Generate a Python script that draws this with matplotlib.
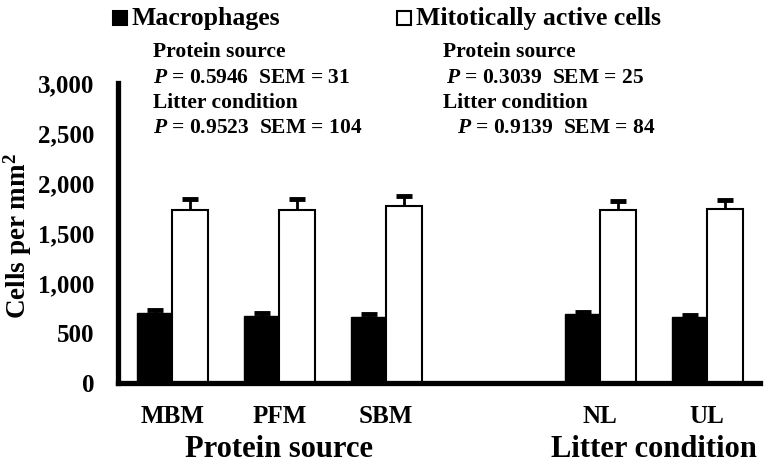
import matplotlib

matplotlib.use("Agg")

import matplotlib.pyplot as plt
import numpy as np
from matplotlib.patches import Rectangle
from matplotlib.ticker import FuncFormatter

groups = ["MBM", "PFM", "SBM", "NL", "UL"]
positions = [0, 1, 2, 4, 5]
macrophages = [700, 667, 657, 690, 657]
mitotic = [1734, 1734, 1770, 1737, 1747]
macro_sem = [31, 31, 31, 25, 25]
mitotic_sem = [104, 104, 104, 84, 84]

plt.rcParams["font.family"] = ["Liberation Serif", "DejaVu Serif"]
plt.rcParams["font.weight"] = "bold"
plt.rcParams["mathtext.fontset"] = "custom"
plt.rcParams["mathtext.rm"] = "Liberation Serif:bold"
plt.rcParams["mathtext.bf"] = "Liberation Serif:bold"
plt.rcParams["mathtext.it"] = "Liberation Serif:bold:italic"

fig = plt.figure(figsize=(7.65, 4.65), dpi=100)
ax = fig.add_axes([0.154, 0.176, 0.839, 0.645])

x = np.array(positions, dtype=float)
width = 0.33


def bars_with_upper_error(xs, vals, sem, face, lw):
    vals = np.array(vals, dtype=float)
    sem = np.array(sem, dtype=float)
    ax.bar(xs, vals, width, color=face, edgecolor="black", linewidth=lw, zorder=2)
    ax.vlines(xs, vals, vals + sem, color="black", linewidth=2, zorder=3)
    ax.plot(xs, vals + sem, ls="none", marker="_", ms=11, mew=3.5, color="black", zorder=3)


bars_with_upper_error(x - width / 2, macrophages, macro_sem, "black", 1)
bars_with_upper_error(x + width / 2, mitotic, mitotic_sem, "white", 1.5)

ax.set_xlim(-0.51, 5.49)
ax.set_ylim(0, 3000)
ax.set_yticks(np.arange(0, 3001, 500))
ax.yaxis.set_major_formatter(FuncFormatter(lambda v, p: f"{int(v):,}"))
ax.set_xticks(x)
ax.set_xticklabels(groups)
ax.tick_params(length=0, labelsize=18)
ax.tick_params(axis="x", pad=16)
ax.tick_params(axis="y", pad=17)
for s in ["top", "right"]:
    ax.spines[s].set_visible(False)
for s in ["left", "bottom"]:
    ax.spines[s].set_linewidth(3.8)

W, H = 765, 465
fig.text(18 / W, 1 - 236 / H, "Cells per mm$^{2}$", rotation=90, ha="center", va="center",
         fontsize=19.5)

ax.text(1, -0.222, "Protein source", transform=ax.get_xaxis_transform(),
        ha="center", va="center", fontsize=22)
ax.text(4.5, -0.222, "Litter condition", transform=ax.get_xaxis_transform(),
        ha="center", va="center", fontsize=22)

# legend drawn by hand
fig.patches.append(Rectangle((113 / W, 1 - 25 / H), 14 / W, 14 / H, transform=fig.transFigure,
                             facecolor="black", edgecolor="black", lw=1.5))
fig.text(132 / W, 1 - 18 / H, "Macrophages", ha="left", va="center", fontsize=18.5)
fig.patches.append(Rectangle((397 / W, 1 - 25 / H), 14 / W, 14 / H, transform=fig.transFigure,
                             facecolor="white", edgecolor="black", lw=1.5))
fig.text(416 / W, 1 - 18 / H, "Mitotically active cells", ha="left", va="center", fontsize=18.5)

left_notes = [
    (153, 52, "Protein source"),
    (153, 78, "$P$ = 0.5946  SEM = 31"),
    (153, 103, "Litter condition"),
    (153, 128, "$P$ = 0.9523  SEM = 104"),
]
right_notes = [
    (443, 52, "Protein source"),
    (446, 78, "$P$ = 0.3039  SEM = 25"),
    (443, 103, "Litter condition"),
    (457, 128, "$P$ = 0.9139  SEM = 84"),
]
for px, py, txt in left_notes + right_notes:
    fig.text(px / W, 1 - py / H, txt, ha="left", va="center", fontsize=15.5)

fig.savefig("out.png", dpi=100)
